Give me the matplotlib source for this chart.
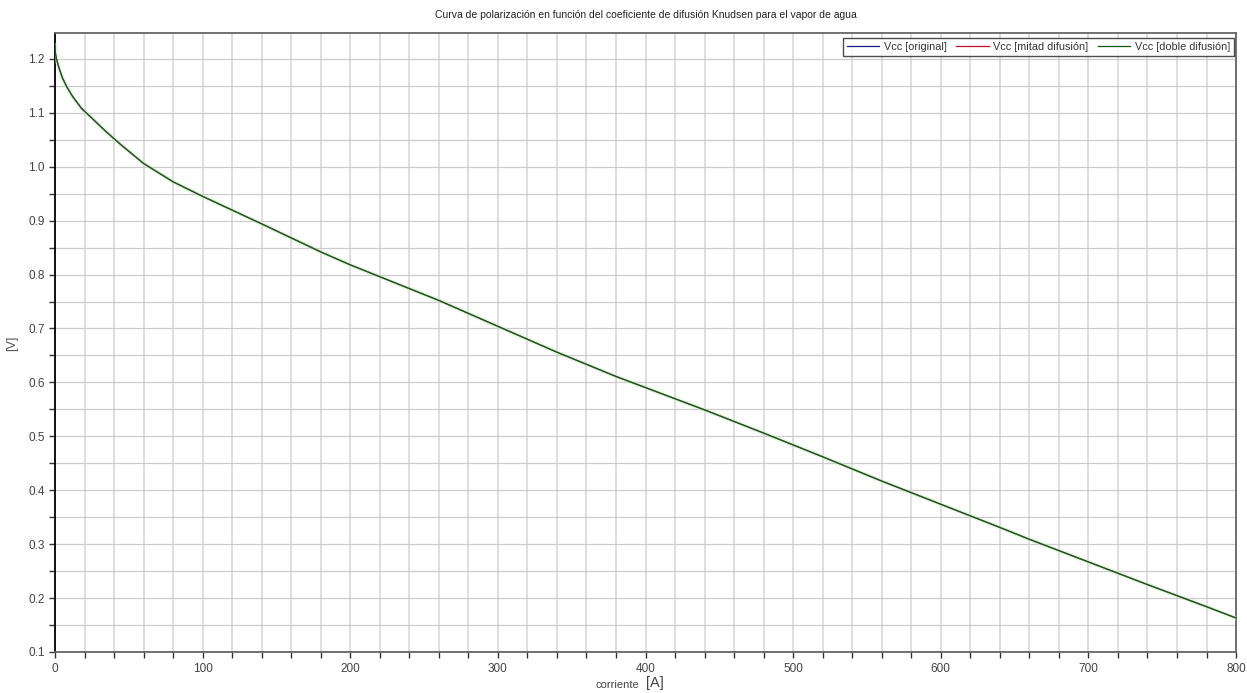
import matplotlib
matplotlib.use("Agg")
import matplotlib.pyplot as plt
from matplotlib.ticker import MultipleLocator, FormatStrFormatter

# Polarization curve: stack current [A] vs. cell voltage [V]
corriente = [0, 0.3, 1, 2.5, 5, 8, 12, 18, 25, 35, 45, 60, 80, 100, 140, 180, 200,
             260, 300, 340, 380, 440, 480, 500, 520, 560, 600, 640, 660, 700, 740, 780, 800]
vcc_original = [1.225, 1.210, 1.200, 1.185, 1.165, 1.148, 1.130, 1.108, 1.090, 1.064,
                1.040, 1.006, 0.972, 0.945, 0.894, 0.842, 0.818, 0.752, 0.704, 0.656,
                0.611, 0.549, 0.506, 0.484, 0.462, 0.417, 0.374, 0.331, 0.309, 0.267,
                0.225, 0.184, 0.163]
vcc_mitad = [1.225, 1.210, 1.200, 1.185, 1.165, 1.148, 1.130, 1.108, 1.090, 1.064,
             1.040, 1.006, 0.972, 0.945, 0.894, 0.842, 0.818, 0.752, 0.704, 0.656,
             0.611, 0.549, 0.506, 0.484, 0.462, 0.417, 0.374, 0.331, 0.309, 0.267,
             0.225, 0.184, 0.163]
vcc_doble = [1.225, 1.210, 1.200, 1.185, 1.165, 1.148, 1.130, 1.108, 1.090, 1.064,
             1.040, 1.006, 0.972, 0.945, 0.894, 0.842, 0.818, 0.752, 0.704, 0.656,
             0.611, 0.549, 0.506, 0.484, 0.462, 0.417, 0.374, 0.331, 0.309, 0.267,
             0.225, 0.184, 0.163]
etiquetas = ["Vcc [original]", "Vcc [mitad difusión]", "Vcc [doble difusión]"]

plt.rcParams["font.family"] = ["Liberation Sans", "DejaVu Sans"]

fig = plt.figure(figsize=(12.47, 6.93), dpi=100)
ax = fig.add_axes([0.0441, 0.0592, 0.9471, 0.8932])

ax.plot(corriente, vcc_original, color="#1a1a8c", lw=0.9, label=etiquetas[0], zorder=3)
ax.plot(corriente, vcc_mitad, color="#c0102a", lw=0.9, label=etiquetas[1], zorder=4)
# soft halo under the top series
ax.plot(corriente, vcc_doble, color="#cdeac6", lw=3.0, alpha=0.5, zorder=4.5)
ax.plot(corriente, vcc_doble, color="#0d5a12", lw=0.9, label=etiquetas[2], zorder=5)

ax.set_xlim(0, 800)
ax.set_ylim(0.1, 1.248)
ax.xaxis.set_major_locator(MultipleLocator(100))
ax.xaxis.set_minor_locator(MultipleLocator(20))
ax.yaxis.set_major_locator(MultipleLocator(0.1))
ax.yaxis.set_minor_locator(MultipleLocator(0.05))
ax.yaxis.set_major_formatter(FormatStrFormatter("%.1f"))

ax.grid(which="both", axis="x", color="#d8d8d8", lw=1.2, zorder=0)
ax.grid(which="both", axis="y", color="#cbcbcb", lw=0.9, zorder=0)
ax.set_axisbelow(True)

ax.tick_params(which="both", direction="out", colors="#333333", labelsize=8.5,
               labelcolor="#444444")
ax.tick_params(which="major", length=4, width=1)
ax.tick_params(which="minor", length=4, width=1)
ax.tick_params(axis="x", pad=4)

ax.spines["left"].set_color("#000000")
ax.spines["left"].set_linewidth(1.3)
for s in ("top", "right", "bottom"):
    ax.spines[s].set_color("#666666")
    ax.spines[s].set_linewidth(1.3)

ax.set_title("Curva de polarización en función del coeficiente de difusión Knudsen para el vapor de agua",
             fontsize=7.5, color="#222222", pad=11)

fig.text(0.513, 0.005, "corriente", fontsize=8, color="#444444", ha="right", va="bottom")
fig.text(0.518, 0.004, "[A]", fontsize=10.5, color="#444444", ha="left", va="bottom")
fig.text(0.0096, 0.505, "[V]", fontsize=9, color="#555555", rotation=90,
         ha="center", va="center")

leg = ax.legend(loc="upper right", ncol=3, fontsize=7.8, frameon=True, fancybox=False,
                edgecolor="#222222", borderpad=0.35, handlelength=3.0, columnspacing=0.9,
                handletextpad=0.4, bbox_to_anchor=(1.0, 0.995), borderaxespad=0.2)
leg.get_frame().set_linewidth(1.0)
leg.set_zorder(10)
for t in leg.get_texts():
    t.set_color("#333333")

fig.savefig("out.png", dpi=100, facecolor="white")
